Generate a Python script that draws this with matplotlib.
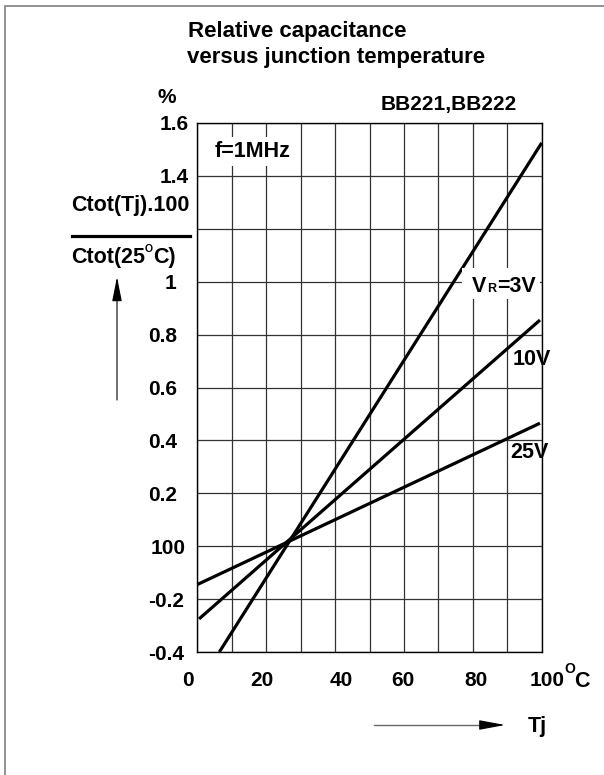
import matplotlib
matplotlib.use('Agg')
import matplotlib.pyplot as plt
import matplotlib.transforms as mtransforms
from matplotlib.lines import Line2D
from matplotlib.patches import Rectangle, FancyArrowPatch

# ---------------- data ----------------
temp_3v = [6.4, 100.0]
ctot_3v = [-0.4, 1.525]
temp_10v = [0.5, 99.5]
ctot_10v = [-0.275, 0.855]
temp_25v = [0.0, 99.5]
ctot_25v = [-0.145, 0.465]

x_ticks = [0, 20, 40, 60, 80, 100]
x_tick_labels = ['0', '20', '40', '60', '80', '100']
x_minor = [10, 30, 50, 70, 90]
y_ticks = [-0.4, -0.2, 0.0, 0.2, 0.4, 0.6, 0.8, 1.0, 1.2, 1.4, 1.6]
y_tick_labels = ['-0.4', '-0.2', '100', '0.2', '0.4', '0.6', '0.8', '1', '', '1.4', '1.6']

# ---------------- style ----------------
W, H = 604, 775
plt.rcParams['font.family'] = ['Liberation Sans', 'DejaVu Sans']
plt.rcParams['font.weight'] = 'bold'

fig = plt.figure(figsize=(W / 100, H / 100), dpi=100)


def fx(x):
    return x / W


def fy(y):
    return 1 - y / H


ax = fig.add_axes([fx(197.3), fy(652), 344.4 / W, 529 / H])
ax.set_xlim(0, 100)
ax.set_ylim(-0.4, 1.6)

ax.set_xticks(x_ticks)
ax.set_xticklabels(x_tick_labels)
ax.set_xticks(x_minor, minor=True)
ax.set_yticks(y_ticks)
ax.set_yticklabels(y_tick_labels)
ax.tick_params(which='both', length=0)
ax.tick_params(axis='both', labelsize=15)
ax.tick_params(axis='x', pad=14)
ax.grid(which='both', color='#333333', lw=0.9)
ax.set_axisbelow(True)
for sp in ax.spines.values():
    sp.set_color('black')
    sp.set_linewidth(1.0)

for T, C in [(temp_3v, ctot_3v), (temp_10v, ctot_10v), (temp_25v, ctot_25v)]:
    ax.plot(T, C, color='black', lw=2.3, solid_capstyle='butt', zorder=3)

# per-label fine placement (reference quirks)
y_pads_pt = [9.4, 9.4, 8.6, 14.4, 14.4, 14.4, 14.4, 15.1, 6.5, 6.5, 6.5]
for tick, p in zip(ax.yaxis.get_major_ticks(), y_pads_pt):
    tick.set_pad(p)
x_off_px = [-9.8, -4.2, 5.9, -0.9, 3.2, 5.3]
for lbl, dx in zip(ax.get_xticklabels(), x_off_px):
    lbl.set_transform(lbl.get_transform() +
                      mtransforms.ScaledTranslation(dx / 100, 0, fig.dpi_scale_trans))


def txt(x, y, s, size=15.5, ha='left', va='baseline', **kw):
    return fig.text(fx(x), fy(y), s, fontsize=size, fontweight='bold',
                    ha=ha, va=va, zorder=4, **kw)


# border
fig.add_artist(Rectangle((fx(4.5), fy(790)), fx(640) - fx(4.5), fy(6) - fy(790),
                         transform=fig.transFigure, fill=False,
                         edgecolor='#7f7f7f', lw=1.2, zorder=5))

# titles
txt(188, 36.7, 'Relative capacitance', size=16)
txt(187, 63.3, 'versus junction temperature', size=16)
txt(157, 103.3, '%', size=15)
txt(516.7, 110, 'BB221,BB222', size=15, ha='right')
txt(215, 157, 'f=1MHz', size=15.5,
    bbox=dict(facecolor='white', edgecolor='none', pad=3))

# y label (fraction)
txt(71, 211.5, 'Ctot(Tj).100', size=15.5)
fig.add_artist(Line2D([fx(72), fx(190)], [fy(235.5), fy(235.5)],
                      transform=fig.transFigure, color='black', lw=2.3, zorder=4))
txt(71, 263.3, 'Ctot(25', size=15.5)
txt(145, 252, 'O', size=7.5)
txt(153, 263.3, 'C)', size=15.5)
fig.add_artist(FancyArrowPatch((fx(117), fy(400)), (fx(117), fy(277)),
                               transform=fig.transFigure,
                               arrowstyle='-|>,head_length=0.75,head_width=0.15',
                               mutation_scale=20, lw=0.8, color='black',
                               shrinkA=0, shrinkB=0, zorder=4))

# x unit and label
txt(564, 673, 'O', size=10)
txt(574, 686.7, 'C', size=15.5)
fig.add_artist(Line2D([fx(374), fx(490)], [fy(725), fy(725)],
                      transform=fig.transFigure, color='#666666', lw=1.0, zorder=4))
fig.add_artist(FancyArrowPatch((fx(483), fy(725)), (fx(505), fy(725)),
                               transform=fig.transFigure,
                               arrowstyle='-|>,head_length=0.8,head_width=0.15',
                               mutation_scale=20, lw=0.8, color='black',
                               shrinkA=0, shrinkB=0, zorder=4))
txt(528, 731.7, 'Tj', size=15.5)

# curve labels
fig.add_artist(Rectangle((fx(462), fy(299)), fx(540) - fx(462), fy(268) - fy(299),
                         transform=fig.transFigure, facecolor='white',
                         edgecolor='none', zorder=2))
txt(472, 291.7, 'V', size=15.5)
txt(487, 291.7, 'R', size=9)
txt(497, 291.7, '=3V', size=15.5)
txt(513, 365, '10V', size=15.5)
txt(510, 458.3, '25V', size=15.5)

fig.savefig('out.png', dpi=100)
